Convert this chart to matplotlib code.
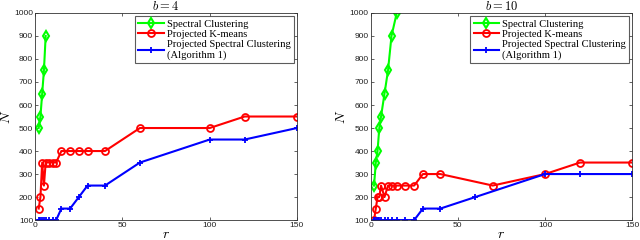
import matplotlib
matplotlib.use("Agg")
import matplotlib.pyplot as plt

plt.rcParams['mathtext.fontset'] = 'cm'
plt.rcParams['font.family'] = 'Liberation Sans'

# b = 4
r4_sc = [2, 3, 4, 5, 6]
n4_sc = [500, 550, 650, 750, 900]
r4_km = [2, 3, 4, 5, 6, 8, 10, 12, 15, 20, 25, 30, 40, 60, 100, 120, 150]
n4_km = [150, 200, 350, 250, 350, 350, 350, 350, 400, 400, 400, 400, 400, 500, 500, 550, 550]
r4_psc = [2, 3, 4, 5, 6, 8, 10, 12, 15, 20, 25, 30, 40, 60, 100, 120, 150]
n4_psc = [100, 100, 100, 100, 100, 100, 100, 100, 150, 150, 200, 250, 250, 350, 450, 450, 500]

# b = 10
r10_sc = [2, 3, 4, 5, 6, 8, 10, 12, 15]
n10_sc = [250, 350, 400, 500, 550, 650, 750, 900, 1000]
r10_km = [2, 3, 4, 5, 6, 8, 10, 12, 15, 20, 25, 30, 40, 70, 100, 120, 150]
n10_km = [100, 150, 200, 200, 250, 200, 250, 250, 250, 250, 250, 300, 300, 250, 300, 350, 350]
r10_psc = [2, 3, 4, 5, 6, 8, 10, 12, 15, 20, 25, 30, 40, 60, 100, 120, 150]
n10_psc = [100, 100, 100, 100, 100, 100, 100, 100, 100, 100, 100, 150, 150, 200, 300, 300, 300]

labels = ["Spectral Clustering", "Projected K-means",
          "Projected Spectral Clustering\n(Algorithm 1)"]
titles = ["$b = 4$", "$b = 10$"]
xticks = [0, 50, 100, 150]
yticks = list(range(100, 1001, 100))

fig = plt.figure(figsize=(6.4, 2.4), dpi=100)
ax1 = fig.add_axes([0.055, 0.083, 0.409, 0.863])
ax2 = fig.add_axes([0.579, 0.083, 0.409, 0.863])

panels = [(ax1, r4_sc, n4_sc, r4_km, n4_km, r4_psc, n4_psc),
          (ax2, r10_sc, n10_sc, r10_km, n10_km, r10_psc, n10_psc)]

for i, (ax, rs, ns, rk, nk, rp, npsc) in enumerate(panels):
    ax.plot(rs, ns, color=(0, 1, 0), lw=1.5, marker='d', ms=5, mfc='none', mew=1.5,
            label=labels[0])
    ax.plot(rk, nk, color=(1, 0, 0), lw=1.5, marker='o', ms=5, mfc='none', mew=1.3,
            label=labels[1])
    ax.plot(rp, npsc, color=(0, 0, 1), lw=1.5, marker='+', ms=4.5, mew=1.3,
            label=labels[2])
    ax.set_xlim(0, 150)
    ax.set_ylim(100, 1000)
    ax.set_xticks(xticks)
    ax.set_yticks(yticks)
    ax.tick_params(direction='in', top=True, right=True, labelsize=6, length=2.5,
                   width=0.5, pad=1.5, colors='#222222')
    for s in ax.spines.values():
        s.set_linewidth(0.6)
        s.set_color('#333333')
    ax.set_title(titles[i], fontsize=9, pad=2)
    ax.set_xlabel("$r$", fontsize=10, va='center')
    ax.xaxis.set_label_coords(0.5, -0.065)
    ax.set_ylabel("$N$", fontsize=10, labelpad=1)
    leg = ax.legend(loc='upper right', frameon=True, fancybox=False,
                    borderaxespad=0.3, handlelength=2.4, handletextpad=0.3,
                    borderpad=0.3, labelspacing=0.1,
                    prop={'family': 'Liberation Serif', 'size': 7.6})
    leg.get_frame().set_edgecolor('#333333')
    leg.get_frame().set_linewidth(0.8)

fig.savefig("out.png", dpi=100)
